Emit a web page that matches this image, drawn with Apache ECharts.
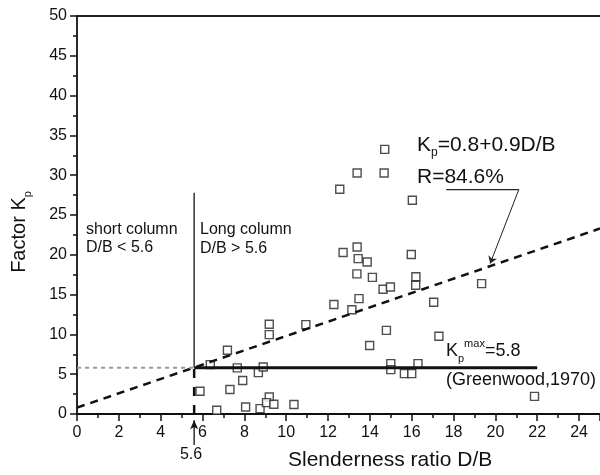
<!DOCTYPE html>
<html><head><meta charset="utf-8">
<script src="https://cdn.jsdelivr.net/npm/echarts@6/dist/echarts.min.js"></script>
<style>html,body{margin:0;padding:0;background:#fff}#c{width:600px;height:475px}</style>
</head><body><div id="c"></div>
<script>
// ---- data ----
const ptX = [5.88, 6.37, 6.68, 7.19, 7.31, 7.66, 7.92, 8.06, 8.67, 8.90, 8.75, 9.19, 9.19, 9.19, 9.06, 9.41, 10.37, 10.94,
  12.28, 13.14, 13.48, 13.38, 14.12, 14.63, 14.98, 16.20, 16.19, 19.34, 17.05, 14.79, 13.99, 17.30, 15.00, 15.00, 15.65, 16.00, 16.30,
  14.71, 13.39, 14.68, 12.56, 16.03, 12.72, 13.39, 13.44, 13.87, 15.98, 21.87];
const ptY = [2.85, 6.20, 0.47, 8.00, 3.07, 5.80, 4.20, 0.88, 5.20, 5.90, 0.68, 11.27, 9.97, 2.14, 1.43, 1.22, 1.20, 11.23,
  13.76, 13.10, 14.50, 17.60, 17.17, 15.67, 15.96, 17.25, 16.17, 16.38, 14.03, 10.50, 8.60, 9.76, 6.33, 5.58, 5.07, 5.07, 6.33,
  33.25, 30.28, 30.28, 28.23, 26.85, 20.28, 20.98, 19.52, 19.10, 20.03, 2.22];
const fitX = [0, 25];
const fitY = [0.8, 23.3];
const kmaxX = [5.6, 22];
const kmaxY = [5.8, 5.8];
const refDotX = [0, 5.6];
const refDotY = [5.8, 5.8];
const divSolidX = [5.6, 5.6];
const divSolidY = [5.8, 27.8];
const divDashX = [5.6, 5.6];
const divDashY = [0, 5.8];
const leadUnderX = [17.65, 21.12];
const leadUnderY = [28.2, 28.2];
const leadArrowX = [21.12, 19.75];
const leadArrowY = [28.2, 18.9];
const axArrowX = [5.6, 5.6];
const axArrowY = [-3.9, -0.8];
const xRange = [0, 25], xStep = 2;
const yRange = [0, 50], yStep = 5;

const pair = (xs, ys) => xs.map((x, i) => [x, ys[i]]);
const FONT = '"Liberation Sans", Arial, sans-serif';
const ink = '#111';

const chart = echarts.init(document.getElementById('c'), null, {renderer: 'canvas'});
const lineSeries = (xs, ys, style, extra) => Object.assign({
  type: 'line', data: pair(xs, ys), symbol: 'none', silent: true, z: 3,
  lineStyle: style, animation: false
}, extra || {});

chart.setOption({
  animation: false,
  grid: {left: 77, top: 16, width: 524, height: 398, containLabel: false},
  xAxis: [{
    type: 'value', min: xRange[0], max: xRange[1], interval: xStep,
    axisLine: {show: true, onZero: false, lineStyle: {color: ink, width: 2}},
    axisTick: {show: true, length: 7, lineStyle: {color: ink, width: 1.5}},
    minorTick: {show: true, splitNumber: 2, length: 4, lineStyle: {color: ink, width: 1.5}},
    axisLabel: {color: ink, fontSize: 16, fontFamily: FONT, margin: 11, showMaxLabel: false},
    splitLine: {show: false}
  }, {
    type: 'value', position: 'top', min: xRange[0], max: xRange[1],
    axisLine: {show: true, onZero: false, lineStyle: {color: '#222', width: 2}},
    axisTick: {show: false}, axisLabel: {show: false}, splitLine: {show: false}
  }],
  yAxis: {
    type: 'value', min: yRange[0], max: yRange[1], interval: yStep,
    axisLine: {show: true, onZero: false, lineStyle: {color: ink, width: 1.8}},
    axisTick: {show: true, length: 7, lineStyle: {color: ink, width: 1.5}},
    minorTick: {show: true, splitNumber: 2, length: 4, lineStyle: {color: ink, width: 1.5}},
    axisLabel: {color: ink, fontSize: 16, fontFamily: FONT, margin: 10},
    splitLine: {show: false}
  },
  series: [
    {type: 'scatter', data: pair(ptX, ptY), symbol: 'rect', symbolSize: 8, z: 2,
     itemStyle: {color: '#fff', borderColor: '#222', borderWidth: 1.4}, silent: true},
    lineSeries(fitX, fitY, {color: ink, width: 2.5, type: [8, 6]}),
    lineSeries(kmaxX, kmaxY, {color: ink, width: 3}),
    lineSeries(refDotX, refDotY, {color: '#999', width: 2, type: [4, 4]}),
    lineSeries(divSolidX, divSolidY, {color: '#333', width: 1.5}),
    lineSeries(divDashX, divDashY, {color: ink, width: 2.5, type: [9, 9]}),
    lineSeries(leadUnderX, leadUnderY, {color: '#222', width: 1.2}, {
      markLine: {
        silent: true, animation: false, symbol: ['none', 'arrow'], symbolSize: 7,
        label: {show: false}, lineStyle: {color: '#222', width: 1, type: 'solid'},
        data: [[{coord: [leadArrowX[0], leadArrowY[0]]}, {coord: [leadArrowX[1], leadArrowY[1]]}]]
      }
    }),
    {type: 'line', clip: false, silent: true, z: 4, animation: false, symbol: 'arrow', symbolSize: [6, 9],
     showAllSymbol: true, itemStyle: {color: ink}, lineStyle: {color: ink, width: 1.3},
     data: [{value: [axArrowX[0], axArrowY[0]], symbol: 'none'}, {value: [axArrowX[1], axArrowY[1]]}]}
  ],
  graphic: [
    {type: 'text', x: 19, y: 232, rotation: Math.PI / 2, style: {
      text: '{a|Factor K}{b|p}', align: 'center', verticalAlign: 'middle', fill: ink,
      rich: {a: {fontSize: 20, fontFamily: FONT, lineHeight: 28, verticalAlign: 'middle', fill: ink},
             b: {fontSize: 11, fontFamily: FONT, lineHeight: 10, verticalAlign: 'bottom', fill: ink}}}},
    {type: 'text', x: 288, y: 460, style: {text: 'Slenderness ratio D/B', font: '21px ' + FONT, fill: ink,
      align: 'left', verticalAlign: 'middle'}},
    {type: 'text', x: 86, y: 230, style: {text: 'short column', font: '16px ' + FONT, fill: ink, verticalAlign: 'middle'}},
    {type: 'text', x: 86, y: 248, style: {text: 'D/B < 5.6', font: '16px ' + FONT, fill: ink, verticalAlign: 'middle'}},
    {type: 'text', x: 200, y: 230, style: {text: 'Long column', font: '16px ' + FONT, fill: ink, verticalAlign: 'middle'}},
    {type: 'text', x: 200, y: 249, style: {text: 'D/B > 5.6', font: '16px ' + FONT, fill: ink, verticalAlign: 'middle'}},
    {type: 'text', x: 417, y: 145, style: {
      text: '{a|K}{b|p}{a|=0.8+0.9D/B}', align: 'left', verticalAlign: 'middle', fill: ink,
      rich: {a: {fontSize: 21, fontFamily: FONT, lineHeight: 28, verticalAlign: 'middle', fill: ink},
             b: {fontSize: 12, fontFamily: FONT, lineHeight: 10, verticalAlign: 'bottom', fill: ink}}}},
    {type: 'text', x: 417, y: 177, style: {text: 'R=84.6%', font: '21px ' + FONT, fill: ink, verticalAlign: 'middle'}},
    {type: 'text', x: 446, y: 351, style: {
      text: '{a|K}{b|p}{c|max}{a|=5.8}', align: 'left', verticalAlign: 'middle', fill: ink,
      rich: {a: {fontSize: 18, fontFamily: FONT, lineHeight: 26, verticalAlign: 'middle', fill: ink},
             b: {fontSize: 11, fontFamily: FONT, lineHeight: 9, verticalAlign: 'bottom', fill: ink},
             c: {fontSize: 11, fontFamily: FONT, lineHeight: 15, verticalAlign: 'top', fill: ink}}}},
    {type: 'text', x: 446, y: 380, style: {text: '(Greenwood,1970)', font: '18px ' + FONT, fill: ink, verticalAlign: 'middle'}},
    {type: 'text', x: 191, y: 455, style: {text: '5.6', font: '16px ' + FONT, fill: ink, align: 'center', verticalAlign: 'middle'}}
  ]
});
</script>
</body></html>
